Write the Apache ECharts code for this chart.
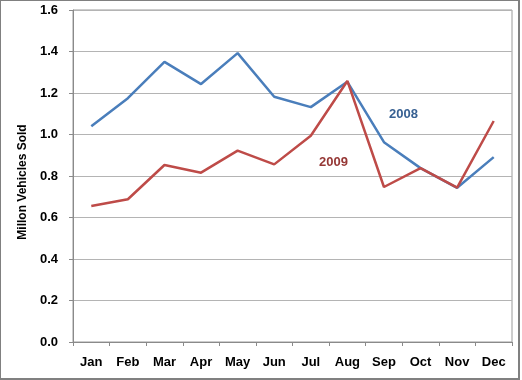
<!DOCTYPE html>
<html><head><meta charset="utf-8">
<script src="https://cdn.jsdelivr.net/npm/echarts@6/dist/echarts.min.js"></script>
<style>html,body{margin:0;padding:0;background:#fff}#c{width:520px;height:380px;box-sizing:border-box;border-style:solid;border-color:#808080;border-width:1px 2px 2px 1px}</style>
</head><body><div id="c"></div>
<script>
const months = ['Jan','Feb','Mar','Apr','May','Jun','Jul','Aug','Sep','Oct','Nov','Dec'];
const sales2008 = [1.04, 1.175, 1.35, 1.243, 1.392, 1.182, 1.132, 1.254, 0.963, 0.838, 0.743, 0.891];
const sales2009 = [0.655, 0.688, 0.853, 0.816, 0.922, 0.856, 0.994, 1.258, 0.747, 0.838, 0.744, 1.065];
const yTicks = [0, 0.2, 0.4, 0.6, 0.8, 1.0, 1.2, 1.4, 1.6];
const seriesNames = ['2008', '2009'];
const yAxisTitle = 'Millon Vehicles Sold';

const chart = echarts.init(document.getElementById('c'));
const font = 'Liberation Sans, Arial, sans-serif';
chart.setOption({
  animation: false,
  grid: {left: 72, right: 6, top: 9, bottom: 36, show: true, borderColor: '#9a9a9a', borderWidth: 1},
  xAxis: {
    type: 'category', data: months, boundaryGap: true,
    axisLine: {lineStyle: {color: '#8a8a8a'}},
    axisTick: {show: true, length: 4, lineStyle: {color: '#8a8a8a'}},
    axisLabel: {color: '#000', fontWeight: 'bold', fontSize: 13, fontFamily: font, margin: 14}
  },
  yAxis: {
    type: 'value', min: yTicks[0], max: yTicks[yTicks.length-1], interval: 0.2,
    name: yAxisTitle, nameLocation: 'middle', nameGap: 44,
    nameTextStyle: {color: '#000', fontWeight: 'bold', fontSize: 12, fontFamily: font, padding: [0, 12, 0, 0]},
    axisLine: {show: true, lineStyle: {color: '#8a8a8a'}},
    axisTick: {show: true, length: 4, lineStyle: {color: '#8a8a8a'}},
    splitLine: {lineStyle: {color: '#b4b4b4'}},
    axisLabel: {color: '#000', fontWeight: 'bold', fontSize: 13, fontFamily: font, margin: 15,
      formatter: v => v.toFixed(1)}
  },
  series: [
    {name: seriesNames[0], type: 'line', data: sales2008, symbol: 'none', lineStyle: {color: '#4a7ebb', width: 2.5}},
    {name: seriesNames[1], type: 'line', data: sales2009, symbol: 'none', lineStyle: {color: '#be4b48', width: 2.5}}
  ],
  graphic: [
    {type: 'text', left: 388, top: 107, style: {text: seriesNames[0], fill: '#376092', font: 'bold 13px ' + font}},
    {type: 'text', left: 318, top: 155, style: {text: seriesNames[1], fill: '#953735', font: 'bold 13px ' + font}}
  ]
});
</script></body></html>
